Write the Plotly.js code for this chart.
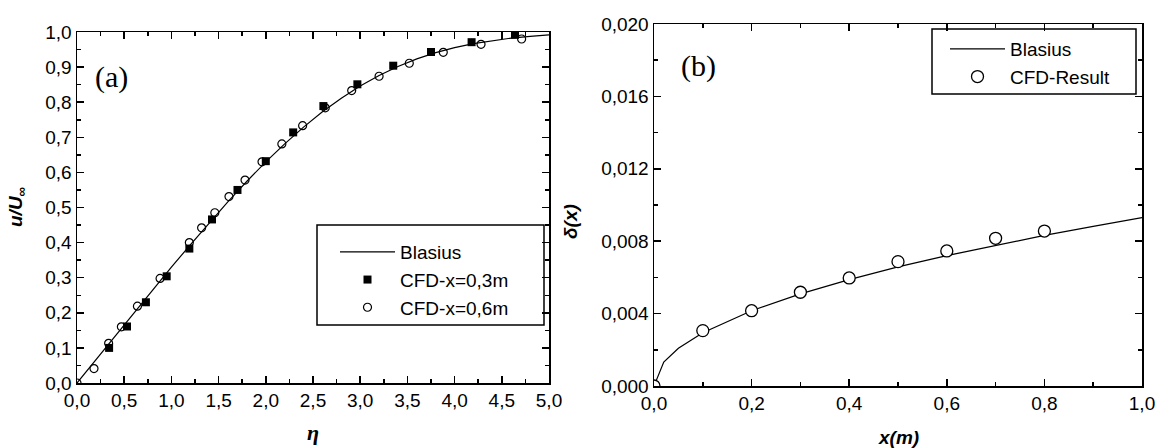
<!DOCTYPE html>
<html>
<head>
<meta charset="utf-8">
<script src="https://cdn.plot.ly/plotly-3.0.1.min.js"></script>
<style>html,body{margin:0;padding:0;background:#fff;}#chart{width:1161px;height:448px;}</style>
</head>
<body>
<div id="chart"></div>
<script>
// ---- Panel (a): velocity profile ----
const blasiusEta = [0, 0.2, 0.4, 0.6, 0.8, 1.0, 1.2, 1.4, 1.6, 1.8, 2.0, 2.2, 2.4, 2.6, 2.8, 3.0, 3.2, 3.4, 3.6, 3.8, 4.0, 4.2, 4.4, 4.6, 4.8, 5.0];
const blasiusU = [0, 0.0664, 0.1328, 0.1989, 0.2647, 0.3298, 0.3938, 0.4563, 0.5168, 0.5748, 0.6298, 0.6813, 0.7290, 0.7725, 0.8115, 0.8461, 0.8761, 0.9018, 0.9233, 0.9411, 0.9555, 0.9670, 0.9759, 0.9827, 0.9878, 0.9916];
const cfd03Eta = [0.34, 0.53, 0.73, 0.95, 1.19, 1.43, 1.70, 2.00, 2.29, 2.61, 2.97, 3.35, 3.75, 4.18, 4.64];
const cfd03U = [0.100, 0.161, 0.230, 0.304, 0.383, 0.466, 0.550, 0.632, 0.714, 0.789, 0.851, 0.904, 0.943, 0.971, 0.992];
const cfd06Eta = [0.0, 0.18, 0.335, 0.47, 0.64, 0.88, 1.19, 1.32, 1.46, 1.61, 1.78, 1.96, 2.17, 2.39, 2.63, 2.91, 3.20, 3.52, 3.88, 4.28, 4.71];
const cfd06U = [0.0, 0.041, 0.113, 0.160, 0.219, 0.298, 0.400, 0.442, 0.485, 0.531, 0.578, 0.630, 0.681, 0.733, 0.784, 0.833, 0.874, 0.911, 0.942, 0.965, 0.980];

// ---- Panel (b): boundary layer thickness ----
const blasiusX = [0, 0.02, 0.05, 0.1, 0.2, 0.3, 0.4, 0.5, 0.6, 0.7, 0.8, 0.9, 1.0];
const blasiusDelta = [0, 0.00132, 0.00208, 0.00294, 0.00416, 0.00509, 0.00588, 0.00658, 0.00720, 0.00778, 0.00832, 0.00882, 0.00930];
const cfdX = [0.0, 0.1, 0.2, 0.3, 0.4, 0.5, 0.6, 0.7, 0.8];
const cfdDelta = [0.0, 0.00306, 0.00416, 0.00518, 0.00597, 0.00687, 0.00746, 0.00816, 0.00856];

const W = 1161, H = 448;
const px = x => x / W;
const py = y => 1 - y / H;

const tickFont = {family: 'Liberation Sans, Arial, sans-serif', size: 19, color: '#000'};
const legFont = {family: 'Liberation Sans, Arial, sans-serif', size: 19, color: '#000'};

function axis(domain, range, dtick, mdtick, fmt, anchor) {
  return {
    domain: domain, range: range, dtick: dtick, tick0: 0, tickformat: fmt,
    showgrid: false, zeroline: false, showline: true, linecolor: '#000', linewidth: 1.5,
    mirror: 'allticks', ticks: 'inside', ticklen: 7, tickwidth: 1.5, tickcolor: '#000',
    tickfont: tickFont, anchor: anchor, fixedrange: true,
    minor: {dtick: mdtick, tick0: 0, ticks: 'inside', ticklen: 4, tickwidth: 1.5, tickcolor: '#000', showgrid: false}
  };
}

const traces = [
  {x: blasiusEta, y: blasiusU, mode: 'lines', name: 'Blasius', line: {color: '#000', width: 1.2}, xaxis: 'x', yaxis: 'y', legend: 'legend'},
  {x: cfd03Eta, y: cfd03U, mode: 'markers', name: 'CFD-x=0,3m', marker: {symbol: 'square', size: 8, color: '#000'}, xaxis: 'x', yaxis: 'y', legend: 'legend'},
  {x: cfd06Eta, y: cfd06U, mode: 'markers', name: 'CFD-x=0,6m', marker: {symbol: 'circle-open', size: 8, color: '#000', line: {width: 1.2}}, xaxis: 'x', yaxis: 'y', legend: 'legend'},
  {x: blasiusX, y: blasiusDelta, mode: 'lines', name: 'Blasius', line: {color: '#000', width: 1.2}, xaxis: 'x2', yaxis: 'y2', legend: 'legend2'},
  {x: cfdX, y: cfdDelta, mode: 'markers', name: 'CFD-Result', marker: {symbol: 'circle', size: 12, color: '#fff', line: {color: '#000', width: 1.3}}, xaxis: 'x2', yaxis: 'y2', legend: 'legend2'}
];

const layout = {
  width: W, height: H,
  margin: {l: 0, r: 0, t: 0, b: 0},
  paper_bgcolor: '#fff', plot_bgcolor: 'rgba(0,0,0,0)',
  separators: ',.',
  showlegend: true,
  xaxis: axis([px(77), px(549)], [0, 5], 0.5, 0.25, '.1f', 'y'),
  yaxis: axis([py(383), py(32)], [0, 1], 0.1, 0.05, '.1f', 'x'),
  xaxis2: axis([px(654), px(1142)], [0, 1], 0.2, 0.1, '.1f', 'y2'),
  yaxis2: axis([py(386), py(24)], [0, 0.02], 0.004, 0.002, '.3f', 'x2'),
  legend: {x: px(335), y: py(233), xanchor: 'left', yanchor: 'top', bgcolor: 'rgba(0,0,0,0)', borderwidth: 0,
           font: legFont, itemwidth: 55, tracegroupgap: 0},
  legend2: {x: px(945), y: py(30), xanchor: 'left', yanchor: 'top', bgcolor: 'rgba(0,0,0,0)', borderwidth: 0,
            font: legFont, itemwidth: 55, tracegroupgap: 0},
  shapes: [
    {type: 'rect', xref: 'paper', yref: 'paper', x0: px(317), x1: px(544), y0: py(325), y1: py(225), line: {color: '#000', width: 1.5}},
    {type: 'rect', xref: 'paper', yref: 'paper', x0: px(932), x1: px(1136), y0: py(94), y1: py(29), line: {color: '#000', width: 1.5}}
  ],
  annotations: [
    {text: '(a)', xref: 'paper', yref: 'paper', x: px(111), y: py(77), showarrow: false, xanchor: 'center', yanchor: 'middle',
     font: {family: 'Liberation Serif, serif', size: 30, color: '#000'}},
    {text: '(b)', xref: 'paper', yref: 'paper', x: px(698), y: py(66), showarrow: false, xanchor: 'center', yanchor: 'middle',
     font: {family: 'Liberation Serif, serif', size: 30, color: '#000'}},
    {text: '<b><i>u/U<sub>∞</sub></i></b>', xref: 'paper', yref: 'paper', x: px(17), y: py(207), showarrow: false, textangle: -90,
     xanchor: 'center', yanchor: 'middle', font: {family: 'Liberation Sans, Arial, sans-serif', size: 19, color: '#000'}},
    {text: '<b><i>η</i></b>', xref: 'paper', yref: 'paper', x: px(313), y: py(432), showarrow: false,
     xanchor: 'center', yanchor: 'middle', font: {family: 'Liberation Serif, serif', size: 22, color: '#000'}},
    {text: '<b><i>δ(x)</i></b>', xref: 'paper', yref: 'paper', x: px(570), y: py(222), showarrow: false, textangle: -90,
     xanchor: 'center', yanchor: 'middle', font: {family: 'Liberation Sans, Arial, sans-serif', size: 19, color: '#000'}},
    {text: '<b><i>x(m)</i></b>', xref: 'paper', yref: 'paper', x: px(898), y: py(437), showarrow: false,
     xanchor: 'center', yanchor: 'middle', font: {family: 'Liberation Sans, Arial, sans-serif', size: 19, color: '#000'}}
  ]
};

Plotly.newPlot('chart', traces, layout, {displayModeBar: false, staticPlot: true});
</script>
</body>
</html>
